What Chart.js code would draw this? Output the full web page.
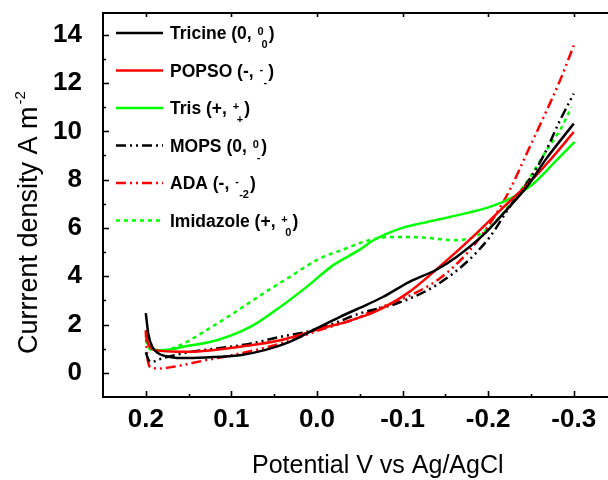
<!DOCTYPE html>
<html>
<head>
<meta charset="utf-8">
<script src="https://cdn.jsdelivr.net/npm/chart.js@4.4.1/dist/chart.umd.min.js"></script>
<style>
  html, body { margin: 0; padding: 0; background: #fff; overflow: hidden; }
  #wrap { width: 608px; height: 480px; position: relative; }
</style>
</head>
<body>
<div id="wrap"><canvas id="c" width="608" height="480"></canvas></div>
<script>
// ---- data (potential V vs Ag/AgCl, current density A m^-2) ----
const xTickVals = [0.2, 0.1, 0.0, -0.1, -0.2, -0.3];
const yTickVals = [0, 2, 4, 6, 8, 10, 12, 14];

const tricineV = [0.2, 0.197, 0.192, 0.185, 0.17, 0.157, 0.13, 0.09, 0.06, 0.032, 0.0, -0.027, -0.05, -0.077, -0.108, -0.14, -0.163, -0.194, -0.221, -0.245, -0.268, -0.3];
const tricineJ = [2.47, 1.6, 1.05, 0.8, 0.65, 0.61, 0.64, 0.73, 0.95, 1.28, 1.85, 2.32, 2.69, 3.14, 3.77, 4.28, 4.80, 5.70, 6.73, 7.70, 8.87, 10.32];

const popsoV = [0.2, 0.198, 0.193, 0.185, 0.17, 0.149, 0.12, 0.09, 0.043, -0.011, -0.027, -0.05, -0.066, -0.105, -0.143, -0.182, -0.214, -0.245, -0.272, -0.3];
const popsoJ = [1.77, 1.3, 1.0, 0.92, 0.88, 0.87, 0.95, 1.08, 1.35, 1.90, 2.04, 2.3, 2.5, 3.28, 4.39, 5.63, 6.73, 7.77, 8.80, 9.97];

const trisV = [0.2, 0.196, 0.19, 0.184, 0.17, 0.156, 0.117, 0.078, 0.043, 0.012, -0.019, -0.05, -0.066, -0.097, -0.124, -0.163, -0.202, -0.229, -0.253, -0.276, -0.301];
const trisJ = [1.49, 1.1, 0.97, 0.94, 0.98, 1.08, 1.35, 1.90, 2.73, 3.56, 4.46, 5.1, 5.49, 5.97, 6.21, 6.52, 6.87, 7.28, 7.84, 8.66, 9.56];

const mopsV = [0.2, 0.197, 0.193, 0.185, 0.17, 0.15, 0.117, 0.078, 0.043, 0.012, -0.019, -0.05, -0.093, -0.136, -0.175, -0.202, -0.225, -0.245, -0.264, -0.284, -0.3];
const mopsJ = [0.85, 0.55, 0.45, 0.55, 0.7, 0.85, 1.01, 1.21, 1.49, 1.70, 2.04, 2.46, 2.87, 3.56, 4.59, 5.63, 6.87, 7.84, 8.94, 10.46, 11.56];

const adaV = [0.2, 0.199, 0.197, 0.193, 0.185, 0.168, 0.129, 0.09, 0.043, -0.003, -0.046, -0.066, -0.105, -0.143, -0.175, -0.202, -0.225, -0.245, -0.264, -0.284, -0.3];
const adaJ = [1.7, 1.0, 0.4, 0.2, 0.18, 0.25, 0.53, 0.80, 1.21, 1.77, 2.25, 2.59, 3.14, 3.90, 4.94, 6.18, 7.56, 9.08, 10.53, 12.11, 13.56];

const imidV = [0.2, 0.197, 0.19, 0.184, 0.17, 0.156, 0.129, 0.098, 0.063, 0.032, -0.003, -0.034, -0.054, -0.085, -0.124, -0.163, -0.19, -0.21, -0.229, -0.249, -0.268, -0.286, -0.297];
const imidJ = [1.35, 1.05, 0.92, 0.87, 1.0, 1.21, 1.77, 2.46, 3.28, 3.97, 4.73, 5.15, 5.42, 5.63, 5.60, 5.49, 5.74, 6.32, 7.15, 8.11, 9.21, 10.18, 11.0];

const legendNames = ['Tricine (0, ', 'POPSO (-, ', 'Tris (+, ', 'MOPS (0, ', 'ADA (-, ', 'Imidazole (+, '];
const legendSup = ['0', '-', '+', '0', '-', '+'];
const legendSub = ['0', '-', '+', '-', '-2', '0'];

// ---- styles ----
const FONT = "'Liberation Sans', Arial, sans-serif";
const BLACK = '#000000', RED = '#ff0000', GREEN = '#00ff00';
const DASHDOTDOT = [10, 4, 2, 4, 2, 4];
const DOTTED = [4, 4];

function pts(xs, ys) { return xs.map((x, i) => ({ x: x, y: ys[i] })); }
function ds(xs, ys, color, dash) {
  return {
    data: pts(xs, ys), borderColor: color, borderWidth: 2.5, borderDash: dash || [],
    pointRadius: 0, fill: false, cubicInterpolationMode: 'monotone'
  };
}

const datasets = [
  ds(tricineV, tricineJ, BLACK),
  ds(popsoV, popsoJ, RED),
  ds(trisV, trisJ, GREEN),
  ds(mopsV, mopsJ, BLACK, DASHDOTDOT),
  ds(adaV, adaJ, RED, DASHDOTDOT),
  ds(imidV, imidJ, GREEN, DOTTED)
];

const framePlugin = {
  id: 'frame',
  afterDraw(chart) {
    const ctx = chart.ctx, a = chart.chartArea;
    const xs = chart.scales.x, ys = chart.scales.y;
    ctx.save();
    ctx.strokeStyle = '#000'; ctx.lineWidth = 2; ctx.setLineDash([]);
    ctx.beginPath();
    ctx.moveTo(a.left, a.top); ctx.lineTo(a.right + 2, a.top);
    ctx.moveTo(a.left, a.top - 1); ctx.lineTo(a.left, a.bottom + 1);
    ctx.moveTo(a.left - 1, a.bottom); ctx.lineTo(a.right + 2, a.bottom);
    ctx.stroke();
    ctx.lineWidth = 1.6;
    ctx.beginPath();
    xTickVals.forEach(v => {
      const p = Math.round(xs.getPixelForValue(v)) + 0.5;
      ctx.moveTo(p, a.bottom); ctx.lineTo(p, a.bottom - 6);
      ctx.moveTo(p, a.top); ctx.lineTo(p, a.top + 4);
      const m = xs.getPixelForValue(v - 0.05);
      if (m < a.right) { ctx.moveTo(Math.round(m) + 0.5, a.bottom); ctx.lineTo(Math.round(m) + 0.5, a.bottom - 3); }
    });
    yTickVals.forEach(v => {
      const p = Math.round(ys.getPixelForValue(v)) + 0.5;
      ctx.moveTo(a.left, p); ctx.lineTo(a.left + 6, p);
      const m = ys.getPixelForValue(v + 1);
      if (m > a.top) { ctx.moveTo(a.left, Math.round(m) + 0.5); ctx.lineTo(a.left + 3, Math.round(m) + 0.5); }
    });
    ctx.stroke();

    // axis titles
    ctx.fillStyle = '#000';
    ctx.textBaseline = 'alphabetic';
    ctx.textAlign = 'left';
    ctx.font = '25px ' + FONT;
    ctx.fillText('Potential V vs Ag/AgCl', 252, 473);

    ctx.save();
    ctx.translate(37, 354);
    ctx.rotate(-Math.PI / 2);
    ctx.font = '27px ' + FONT;
    const main = 'Currrent density A m';
    ctx.fillText(main, 0, 0);
    const w = ctx.measureText(main).width;
    ctx.font = '15px ' + FONT;
    ctx.fillText('-2', w + 2, -12);
    ctx.restore();

    // legend
    const rowY = [33, 70.5, 108, 145.5, 183, 220.5];
    datasets.forEach((d, i) => {
      const y = rowY[i];
      ctx.strokeStyle = d.borderColor; ctx.lineWidth = 2.5;
      ctx.setLineDash(d.borderDash);
      ctx.beginPath(); ctx.moveTo(116, y); ctx.lineTo(163, y); ctx.stroke();
      ctx.setLineDash([]);
      ctx.fillStyle = '#000';
      ctx.font = 'bold 17.5px ' + FONT;
      ctx.fillText(legendNames[i], 170, y + 6);
      let x = 170 + ctx.measureText(legendNames[i]).width + 1;
      ctx.font = 'bold 11px ' + FONT;
      ctx.fillText(legendSup[i], x, y + 2);
      const sw = ctx.measureText(legendSup[i]).width;
      ctx.fillText(legendSub[i], x + 4, y + 15);
      const bw = ctx.measureText(legendSub[i]).width;
      x = Math.max(x + sw, x + 4 + bw) + 1;
      ctx.font = 'bold 17.5px ' + FONT;
      ctx.fillText(')', x, y + 6);
    });
    ctx.restore();
  }
};

new Chart(document.getElementById('c'), {
  type: 'line',
  data: { datasets: datasets },
  plugins: [framePlugin],
  options: {
    responsive: false,
    animation: false,
    devicePixelRatio: 1,
    layout: { padding: { top: 13, right: 0, left: 0, bottom: 0 } },
    plugins: { legend: { display: false }, tooltip: { enabled: false } },
    scales: {
      x: {
        type: 'linear', reverse: true, min: -0.34, max: 0.25,
        grid: { display: false, drawTicks: false }, border: { display: false },
        afterBuildTicks: s => { s.ticks = xTickVals.map(v => ({ value: v })); },
        afterFit: s => { s.height = 83; s.paddingLeft = 0; s.paddingRight = 0; },
        ticks: {
          autoSkip: false, maxRotation: 0, padding: 7, color: '#000',
          font: { family: FONT, size: 26, weight: 'bold' },
          callback: v => Number(v).toFixed(1)
        }
      },
      y: {
        type: 'linear', min: -1, max: 14.9,
        grid: { display: false, drawTicks: false }, border: { display: false },
        afterBuildTicks: s => { s.ticks = yTickVals.map(v => ({ value: v })); },
        afterFit: s => { s.width = 103; s.paddingTop = 0; s.paddingBottom = 0; },
        ticks: {
          autoSkip: false, padding: 21, color: '#000',
          font: { family: FONT, size: 26, weight: 'bold' },
          callback: v => String(Math.round(v))
        }
      }
    }
  }
});
</script>
</body>
</html>
